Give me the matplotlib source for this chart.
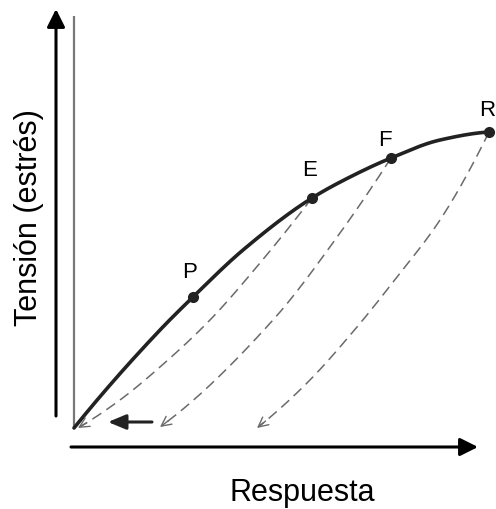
import numpy as np
import matplotlib
matplotlib.use("Agg")
import matplotlib.pyplot as plt

plt.rcParams['font.family'] = ['Liberation Sans', 'DejaVu Sans']

# Loading curve (response vs stress)
curve_x = [0, 86, 119, 169, 238, 276, 317, 366, 415]
curve_y = [0, 98, 131, 178, 230, 251, 270, 288, 296]

# Marked points
pt_labels = ["P", "E", "F", "R"]
pt_x = [119, 238, 317, 415]
pt_y = [131, 230, 270, 296]

# Unloading curves (dashed), from the loading curve down to the baseline
unload_E_x = [238, 186, 136, 86, 46, 4]
unload_E_y = [230, 165, 108, 61, 28, 0]
unload_F_x = [317, 266, 199, 86]
unload_F_y = [270, 195, 108, 1]
unload_R_x = [415, 366, 323, 283, 233, 183]
unload_R_y = [296, 208, 151, 101, 45, 0]


def pchip(xs, ys, n=300):
    x = np.asarray(xs, float)
    y = np.asarray(ys, float)
    order = np.argsort(x)
    x, y = x[order], y[order]
    h = np.diff(x)
    d = np.diff(y) / h
    m = np.zeros_like(x)
    for k in range(1, len(x) - 1):
        if d[k - 1] * d[k] > 0:
            w1 = 2 * h[k] + h[k - 1]
            w2 = h[k] + 2 * h[k - 1]
            m[k] = (w1 + w2) / (w1 / d[k - 1] + w2 / d[k])
    if len(x) > 2:
        m[0] = ((2 * h[0] + h[1]) * d[0] - h[0] * d[1]) / (h[0] + h[1])
        if np.sign(m[0]) != np.sign(d[0]):
            m[0] = 0
        elif abs(m[0]) > 3 * abs(d[0]):
            m[0] = 3 * d[0]
        m[-1] = ((2 * h[-1] + h[-2]) * d[-1] - h[-1] * d[-2]) / (h[-1] + h[-2])
        if np.sign(m[-1]) != np.sign(d[-1]):
            m[-1] = 0
        elif abs(m[-1]) > 3 * abs(d[-1]):
            m[-1] = 3 * d[-1]
    else:
        m[:] = d[0]
    xx = np.linspace(x[0], x[-1], n)
    idx = np.clip(np.searchsorted(x, xx) - 1, 0, len(x) - 2)
    t = (xx - x[idx]) / h[idx]
    h00 = 2 * t ** 3 - 3 * t ** 2 + 1
    h10 = t ** 3 - 2 * t ** 2 + t
    h01 = -2 * t ** 3 + 3 * t ** 2
    h11 = t ** 3 - t ** 2
    yy = h00 * y[idx] + h10 * h[idx] * m[idx] + h01 * y[idx + 1] + h11 * h[idx] * m[idx + 1]
    return xx, yy


fig = plt.figure(figsize=(4.96, 5.09), dpi=100)
ax = fig.add_axes([0, 0, 1, 1])
ax.set_xlim(-74, 422)
ax.set_ylim(-81, 428)
ax.axis('off')

# Outer axis arrows
ax.annotate('', xy=(-18, 419), xytext=(-18, 12),
            arrowprops=dict(arrowstyle='-|>,head_length=0.6,head_width=0.3',
                            lw=2.2, color='black', mutation_scale=18, shrinkA=0, shrinkB=0))
ax.annotate('', xy=(404, -19), xytext=(-3, -19),
            arrowprops=dict(arrowstyle='-|>,head_length=0.6,head_width=0.3',
                            lw=2.2, color='black', mutation_scale=18, shrinkA=0, shrinkB=0))
# Inner gray axis line
ax.plot([0, 0], [0, 412], color='#777777', lw=1.6, solid_capstyle='butt')

# Dashed unloading curves (drawn from top to bottom, arrow at the bottom end)
for ux, uy in [(unload_E_x, unload_E_y), (unload_F_x, unload_F_y), (unload_R_x, unload_R_y)]:
    sx, sy = pchip(ux, uy)
    sx, sy = sx[::-1], sy[::-1]
    ax.plot(sx[:-4], sy[:-4], color='#6a6a6a', lw=1.1, linestyle=(0, (7, 4)))
    ax.annotate('', xy=(sx[-1], sy[-1]), xytext=(sx[-12], sy[-12]),
                arrowprops=dict(arrowstyle='->,head_length=0.5,head_width=0.25',
                                lw=1.0, color='#6a6a6a', mutation_scale=14,
                                shrinkA=0, shrinkB=0))

# Main loading curve
cx, cy = pchip(curve_x, curve_y)
ax.plot(cx, cy, color='#222222', lw=2.6, solid_capstyle='round')
ax.plot(pt_x, pt_y, 'o', color='#222222', ms=7)

# Point labels
ax.text(116, 156, "P", fontsize=16, ha='center', va='center')
ax.text(236, 258, "E", fontsize=16, ha='center', va='center')
ax.text(311, 288, "F", fontsize=16, ha='center', va='center')
ax.text(421, 318, "R", fontsize=16, ha='right', va='center')

# Left-pointing arrow at bottom
ax.annotate('', xy=(34, 6), xytext=(78, 6),
            arrowprops=dict(arrowstyle='-|>,head_length=0.6,head_width=0.25',
                            lw=2.2, color='#222222', mutation_scale=18, shrinkA=0, shrinkB=0))

# Axis labels
ax.text(228, -65, "Respuesta", fontsize=22, ha='center', va='center')
ax.text(-45, 210, "Tensión (estrés)", fontsize=22, ha='center', va='center', rotation=90)

fig.savefig("out.png", dpi=100)
